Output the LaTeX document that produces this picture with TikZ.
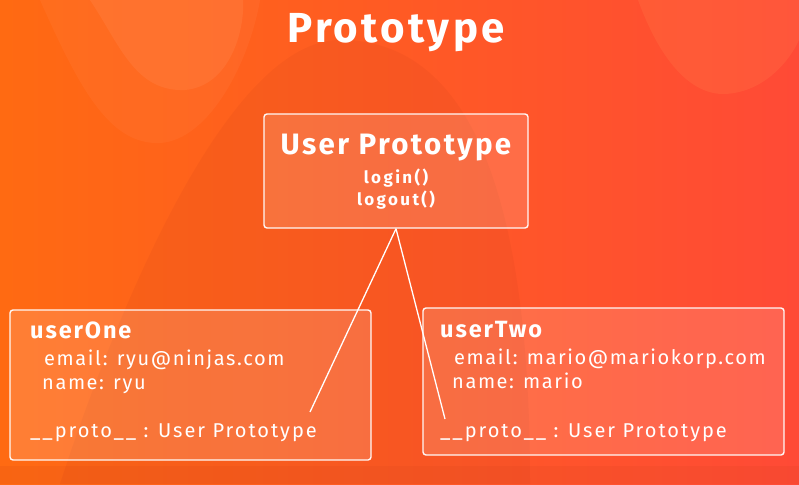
\documentclass[tikz,border=0pt]{standalone}
\usepackage{fontspec}
\setmainfont[LetterSpace=8]{Fira Sans}
\usetikzlibrary{positioning}
\definecolor{OrangeLeft}{HTML}{FF6A12}
\definecolor{OrangeRight}{HTML}{FF4A36}
\definecolor{OrangeLight}{HTML}{FF8A50}
\definecolor{OrangeDark}{HTML}{C8401A}

\begin{document}
\begin{tikzpicture}[x=1pt,y=-1pt,
    objbox/.style={draw=white, line width=1.4pt, rounded corners=3pt,
      fill=white, fill opacity=0.14, draw opacity=0.95, inner sep=0pt},
    boxtext/.style={text=white, inner sep=0pt, anchor=base west},
    link/.style={white, line width=1.3pt}]
    %%Background
    \useasboundingbox (0,0) rectangle (799,484);
    \shade[left color=OrangeLeft, right color=OrangeRight] (0,0) rectangle (799,484);
    \fill[OrangeDark, opacity=0.12] (60,484) .. controls (120,300) and (230,40) .. (340,40)
      .. controls (450,40) and (530,150) .. (530,484) -- cycle;
    \fill[OrangeLight, opacity=0.16] (40,0) .. controls (80,90) and (110,145) .. (160,143)
      .. controls (210,140) and (250,60) .. (260,0) -- cycle;
    \fill[OrangeLight, opacity=0.28] (90,0) .. controls (120,45) and (135,92) .. (185,90)
      .. controls (230,86) and (245,30) .. (243,0) -- cycle;
    \fill[OrangeLight, opacity=0.2] (638,0) .. controls (660,60) and (690,95) .. (725,94)
      .. controls (765,92) and (790,60) .. (799,40) -- (799,0) -- cycle;
    \fill[OrangeDark, opacity=0.12] (0,466) rectangle (799,484);
    %%Title
    \node[text=white, inner sep=0pt, anchor=base] (title) at (396,43)
      {\fontsize{42}{48}\selectfont\bfseries Prototype};
    %%Boxes
    \node[objbox, minimum width=264pt, minimum height=114pt] (proto) at (396,171) {};
    \node[objbox, minimum width=361pt, minimum height=150pt] (one) at (190.5,385) {};
    \node[objbox, minimum width=361pt, minimum height=147pt] (two) at (603.5,381.5) {};
    %%Links
    \coordinate (tipOne) at (310,412);
    \coordinate (tipTwo) at (445,419);
    \draw[link] (proto.south) -- (tipOne);
    \draw[link] (proto.south) -- (tipTwo);
    %%Prototype text
    \node[text=white, inner sep=0pt, anchor=base] (protoName) at (396,154)
      {\fontsize{29.5}{34}\selectfont\bfseries User Prototype};
    \node[text=white, inner sep=0pt, anchor=base] (login) at (396,183)
      {\fontsize{17}{20}\selectfont\bfseries\addfontfeature{LetterSpace=14}login()};
    \node[text=white, inner sep=0pt, anchor=base] (logout) at (396,205)
      {\fontsize{17}{20}\selectfont\bfseries\addfontfeature{LetterSpace=14}logout()};
    %%userOne
    \node[boxtext] (oneName) at (30,338) {\fontsize{23.5}{28}\selectfont\bfseries userOne};
    \node[boxtext] (oneEmail) at (44,365) {\fontsize{20}{24}\selectfont email: ryu@ninjas.com};
    \node[boxtext] (oneUser) at (42,389) {\fontsize{20}{24}\selectfont name: ryu};
    \node[boxtext] (oneProto) at (30,437) {\fontsize{20}{24}\selectfont\addfontfeature{LetterSpace=10}\_\_proto\_\_ : User Prototype};
    %%userTwo
    \node[boxtext] (twoName) at (440,337) {\fontsize{23.5}{28}\selectfont\bfseries userTwo};
    \node[boxtext] (twoEmail) at (454,364) {\fontsize{20}{24}\selectfont email: mario@mariokorp.com};
    \node[boxtext] (twoUser) at (452,388) {\fontsize{20}{24}\selectfont name: mario};
    \node[boxtext] (twoProto) at (440,437) {\fontsize{20}{24}\selectfont\addfontfeature{LetterSpace=10}\_\_proto\_\_ : User Prototype};
\end{tikzpicture}
\end{document}
